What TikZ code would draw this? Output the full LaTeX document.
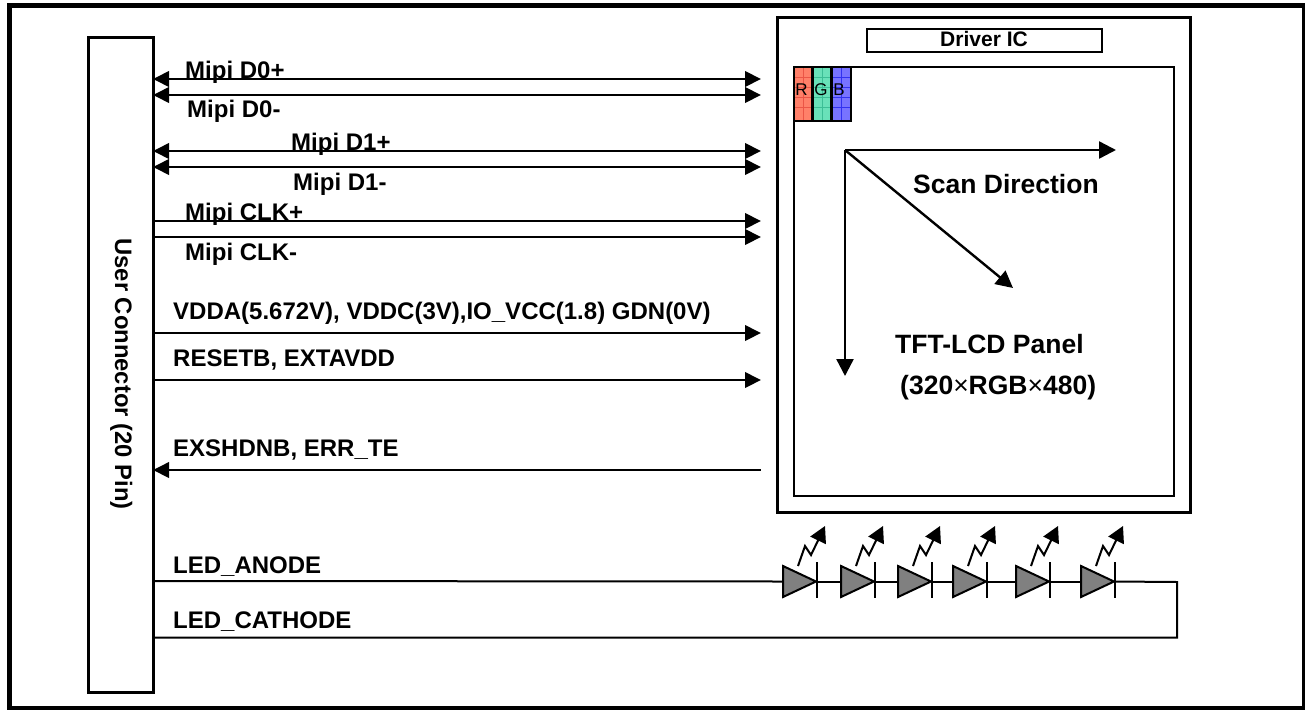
\documentclass[tikz,border=0pt]{standalone}
\usepackage{fontspec}
\setmainfont{Liberation Sans}
\usetikzlibrary{arrows.meta}
\tikzset{
  x=1pt,y=-1pt,
  frame/.style={draw=black,line width=4.5pt},
  boxthick/.style={draw=black,line width=3pt,fill=white,inner sep=0pt,outer sep=0pt},
  boxthin/.style={draw=black,line width=2pt,fill=white,inner sep=0pt,outer sep=0pt},
  sig/.style={line width=2pt,draw=black},
  both/.style={sig,{Triangle[length=16pt,width=15.5pt]}-{Triangle[length=16pt,width=15.5pt]}},
  toright/.style={sig,-{Triangle[length=16pt,width=15.5pt]}},
  toleft/.style={sig,{Triangle[length=16pt,width=15.5pt]}-},
  scan/.style={line width=2.4pt,draw=black,-{Triangle[length=17pt,width=17pt]}},
  lab/.style={font=\bfseries\fontsize{24}{28}\selectfont,anchor=base west,inner sep=0pt},
  biglab/.style={font=\bfseries\fontsize{26.5}{30}\selectfont,anchor=base west,inner sep=0pt},
  pix/.style={line width=2.4pt,draw=black},
  pixtxt/.style={font=\fontsize{17}{19}\selectfont,anchor=base,inner sep=0pt},
  ledbody/.style={draw=black,line width=2pt,fill={rgb,255:red,128;green,128;blue,128}},
  ledbar/.style={draw=black,line width=2pt},
  ledzig/.style={draw=black,line width=2pt,line join=miter,-{Triangle[length=16pt,width=17pt]}},
}
\newcommand{\ledunit}[2]{%
  \coordinate (ledin#2) at (#1,581.5);
  \coordinate (ledout#2) at ({#1+33.5},581.5);
  \draw[ledbody] (#1,566) -- ({#1+33},581.5) -- (#1,597) -- cycle;
  \draw[ledbar] ({#1+34},562) -- ({#1+34},598);
  \draw[ledzig] ({#1+15},566) -- ({#1+22},546) -- ({#1+28},555) -- ({#1+42},526);
}
\begin{document}
\begin{tikzpicture}
\useasboundingbox (0,0) rectangle (1305,709);
\fill[white] (0,0) rectangle (1305,709);
\draw[frame] (9.3,5.3) rectangle (1304,708);

% connector
\node[boxthick,minimum width=64.5pt,minimum height=654.5pt,anchor=north west] (conn) at (88.5,37.5) {};
\node[font=\bfseries\fontsize{23.8}{26}\selectfont,rotate=-90,anchor=base,inner sep=0pt] (connlab) at (115,374) {User Connector (20 Pin)};

% driver and panel
\node[boxthick,minimum width=412.5pt,minimum height=494.7pt,anchor=north west] (drv) at (777.5,17.3) {};
\node[boxthin,minimum width=235pt,minimum height=23.5pt,anchor=north west] (ic) at (866.5,29) {};
\node[font=\bfseries\fontsize{21}{24}\selectfont,anchor=base,inner sep=0pt] (iclab) at (984,47) {Driver IC};
\node[boxthin,minimum width=380pt,minimum height=429pt,anchor=north west] (panel) at (794,67) {};

% RGB cell
\fill[fill={rgb,255:red,255;green,128;blue,105}] (794,67) rectangle (812.5,121);
\fill[fill={rgb,255:red,105;green,225;blue,185}] (812.5,67) rectangle (831.5,121);
\fill[fill={rgb,255:red,120;green,115;blue,255}] (831.5,67) rectangle (851,121);
\foreach \yy in {77,87,97,107}{
  \draw[line width=.6pt,draw={rgb,255:red,235;green,85;blue,70}] (795,\yy) -- (812,\yy);
  \draw[line width=.6pt,draw={rgb,255:red,60;green,190;blue,150}] (813,\yy) -- (831,\yy);
  \draw[line width=.6pt,draw={rgb,255:red,50;green,50;blue,240}] (832,\yy) -- (850,\yy);
}
\draw[line width=.6pt,draw={rgb,255:red,235;green,85;blue,70}] (803,67) -- (803,121);
\draw[line width=.6pt,draw={rgb,255:red,60;green,190;blue,150}] (822,67) -- (822,121);
\draw[line width=.6pt,draw={rgb,255:red,50;green,50;blue,240}] (841,67) -- (841,121);
\draw[pix] (794,67) rectangle (851,121);
\draw[pix] (812.5,67) -- (812.5,121);
\draw[pix] (831.5,67) -- (831.5,121);
\node[pixtxt] (pr) at (801.5,95) {R};
\node[pixtxt] (pg) at (821,95) {G};
\node[pixtxt] (pb) at (839,95) {B};

% signal end points
\foreach \n/\yy in {a/79,b/95,c/151,d/167,e/221,f/237,g/333,h/380,i/470,j/581,k/637.5}{
  \coordinate (L\n) at (153,\yy);
  \coordinate (R\n) at (761,\yy);
}
\draw[both] (La) -- (Ra);
\draw[both] (Lb) -- (Rb);
\draw[both] (Lc) -- (Rc);
\draw[both] (Ld) -- (Rd);
\draw[toright] (Le) -- (Re);
\draw[toright] (Lf) -- (Rf);
\draw[toright] (Lg) -- (Rg);
\draw[toright] (Lh) -- (Rh);
\draw[toleft] (Li) -- (Ri);

% labels
\node[lab] (t1) at (185,78) {Mipi D0+};
\node[lab] (t2) at (187,117) {Mipi D0-};
\node[lab] (t3) at (291,150) {Mipi D1+};
\node[lab] (t4) at (293,190) {Mipi D1-};
\node[lab] (t5) at (185,220) {Mipi CLK+};
\node[lab] (t6) at (185,260) {Mipi CLK-};
\node[lab] (t7) at (173,319) {VDDA(5.672V), VDDC(3V),IO\_VCC(1.8) GDN(0V)};
\node[lab] (t8) at (173,366) {RESETB, EXTAVDD};
\node[lab] (t9) at (173,456) {EXSHDNB, ERR\_TE};
\node[lab] (t10) at (173,573) {LED\_ANODE};
\node[lab] (t11) at (173,628) {LED\_CATHODE};

% scan direction
\coordinate (sc) at (845,150);
\coordinate (scr) at (1116,150);
\coordinate (scd) at (845,376);
\coordinate (scg) at (1013,288);
\draw[scan] (sc) -- (scr);
\draw[scan] (sc) -- (scd);
\draw[scan] (sc) -- (scg);
\node[biglab] (sd) at (913,193) {Scan Direction};
\node[biglab] (pn) at (895,353) {TFT-LCD Panel};
\node[biglab] (ps) at (900,394) {(320{\mdseries ×}RGB{\mdseries ×}480)};

% LEDs
\ledunit{783}{1}
\ledunit{841}{2}
\ledunit{898}{3}
\ledunit{953}{4}
\ledunit{1016}{5}
\ledunit{1081}{6}
\coordinate (corner1) at (1177,582);
\coordinate (corner2) at (1177,637.5);
\draw[sig] (Lj) -- (ledin1);
\draw[sig] (ledout1) -- (ledin2);
\draw[sig] (ledout2) -- (ledin3);
\draw[sig] (ledout3) -- (ledin4);
\draw[sig] (ledout4) -- (ledin5);
\draw[sig] (ledout5) -- (ledin6);
\draw[sig] (ledout6) -- (corner1) -- (corner2) -- (Lk);
\end{tikzpicture}
\end{document}
